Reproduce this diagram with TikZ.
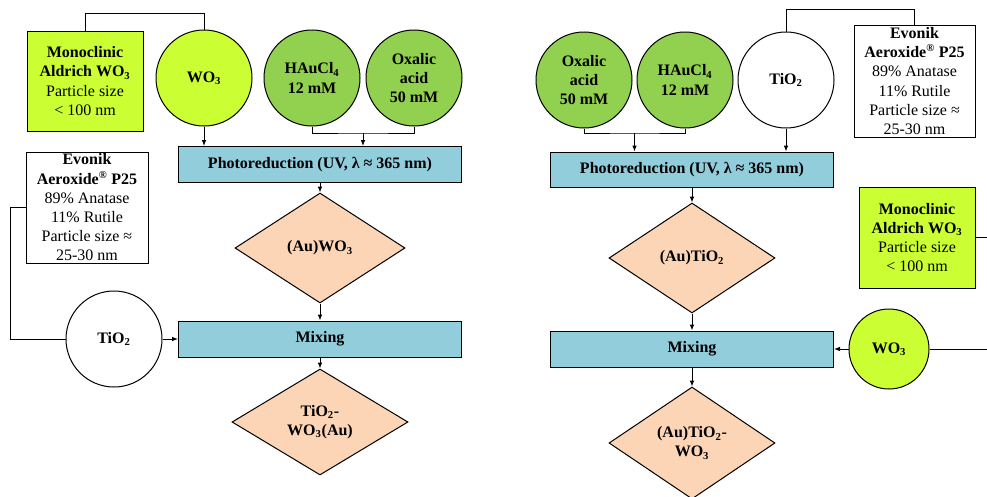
\documentclass[tikz,border=0pt]{standalone}
\usepackage{fontspec}
\setmainfont{Liberation Serif}
\usetikzlibrary{shapes.geometric,arrows.meta}
\newdimen\px \px=0.75pt
\definecolor{limeY}{HTML}{CCFF33}
\definecolor{grn}{HTML}{92D050}
\definecolor{blu}{HTML}{92CDDC}
\definecolor{pch}{HTML}{FBD5B5}
\newcommand{\myfs}{\fontsize{12}{14.4}\selectfont}
\begin{document}
\begin{tikzpicture}[x=0.75pt,y=-0.75pt,
  line width=0.75pt,
  every node/.style={font=\myfs, align=center, inner sep=0pt},
  box/.style={draw, rectangle},
  circ/.style={draw, circle, minimum size=96\px, font=\myfs\bfseries},
  proc/.style={draw, rectangle, fill=blu, minimum width=283\px, minimum height=36\px, font=\myfs\bfseries},
  prod/.style={draw, diamond, fill=pch, minimum width=170\px, minimum height=110\px, font=\myfs\bfseries},
  arr/.style={-{Latex[length=4.5pt,width=3.5pt]}}]
\useasboundingbox (0,0) rectangle (987,496);
% ---------- left panel ----------
\node[box, fill=limeY, minimum width=116\px, minimum height=100\px] (mono1) at (85,81)
  {\textbf{Monoclinic}\\\textbf{Aldrich WO\textsubscript{3}}\\Particle size\\< 100 nm};
\node[circ, fill=limeY] (wo3a) at (204,78) {WO\textsubscript{3}};
\node[circ, fill=grn] (hau1) at (312,78) {HAuCl\textsubscript{4}\\12 mM};
\node[circ, fill=grn] (ox1) at (414,78) {Oxalic\\acid\\50 mM};
\node[proc] (photo1) at (320,164.5) {Photoreduction (UV, λ ≈ 365 nm)};
\node[prod] (dia1) at (320,248) {(Au)WO\textsubscript{3}};
\node[proc] (mix1) at (320,339) {Mixing};
\node[prod, minimum width=176\px, minimum height=106\px] (dia2) at (320,422) {TiO\textsubscript{2}-\\WO\textsubscript{3}(Au)};
\node[box, fill=white, minimum width=122\px, minimum height=111\px] (evo1) at (87,207.5)
  {\textbf{Evonik}\\\textbf{Aeroxide\textsuperscript{\textregistered} P25}\\89\% Anatase\\11\% Rutile\\Particle size ≈\\25-30 nm};
\node[circ, fill=white] (tio1) at (114,339) {TiO\textsubscript{2}};
\coordinate (t1) at (85,13);
\coordinate (b1) at (363,133);
\coordinate (c1) at (10,207.5);
\draw (mono1.north) -- (t1) -| (wo3a.north);
\draw (hau1.south) |- (b1) -| (ox1.south);
\draw[arr] (b1) -- (b1 |- photo1.north);
\draw[arr] (wo3a.south) -- (wo3a.south |- photo1.north);
\draw[arr] (photo1.south) -- (dia1.north);
\draw[arr] (dia1.south) -- (mix1.north);
\draw[arr] (mix1.south) -- (dia2.north);
\draw (evo1.west) -- (c1) |- (tio1.west);
\draw[arr] (tio1.east) -- (mix1.west);
% ---------- right panel ----------
\node[circ, fill=grn] (ox2) at (584,80) {Oxalic\\acid\\50 mM};
\node[circ, fill=grn] (hau2) at (685,80) {HAuCl\textsubscript{4}\\12 mM};
\node[circ, fill=white] (tio2) at (786,80) {TiO\textsubscript{2}};
\node[proc, minimum height=35\px] (photo2) at (692,169.5) {Photoreduction (UV, λ ≈ 365 nm)};
\node[prod, minimum width=166\px] (dia3) at (692,258) {(Au)TiO\textsubscript{2}};
\node[proc] (mix2) at (692,349) {Mixing};
\node[prod, minimum width=166\px, minimum height=112\px] (dia4) at (692,443) {(Au)TiO\textsubscript{2}-\\WO\textsubscript{3}};
\node[box, fill=white, minimum width=121\px, minimum height=112\px] (evo2) at (914.5,81)
  {\textbf{Evonik}\\\textbf{Aeroxide\textsuperscript{\textregistered} P25}\\89\% Anatase\\11\% Rutile\\Particle size ≈\\25-30 nm};
\node[box, fill=limeY, minimum width=116\px, minimum height=101\px] (mono2) at (917,237.5)
  {\textbf{Monoclinic}\\\textbf{Aldrich WO\textsubscript{3}}\\Particle size\\< 100 nm};
\node[circ, fill=limeY, minimum size=80\px] (wo3b) at (889,349) {WO\textsubscript{3}};
\coordinate (t2) at (786,9);
\coordinate (b2) at (634.5,133);
\coordinate (e1) at (987,237.5);
\coordinate (e2) at (987,349);
\draw (tio2.north) -- (t2) -| (evo2.north);
\draw (ox2.south) |- (b2) -| (hau2.south);
\draw[arr] (b2) -- (b2 |- photo2.north);
\draw[arr] (tio2.south) -- (tio2.south |- photo2.north);
\draw[arr] (photo2.south) -- (dia3.north);
\draw[arr] (dia3.south) -- (mix2.north);
\draw[arr] (mix2.south) -- (dia4.north);
\draw[arr] (wo3b.west) -- (mix2.east);
\draw (wo3b.east) -- (e2);
\draw (mono2.east) -- (e1);
\end{tikzpicture}
\end{document}
